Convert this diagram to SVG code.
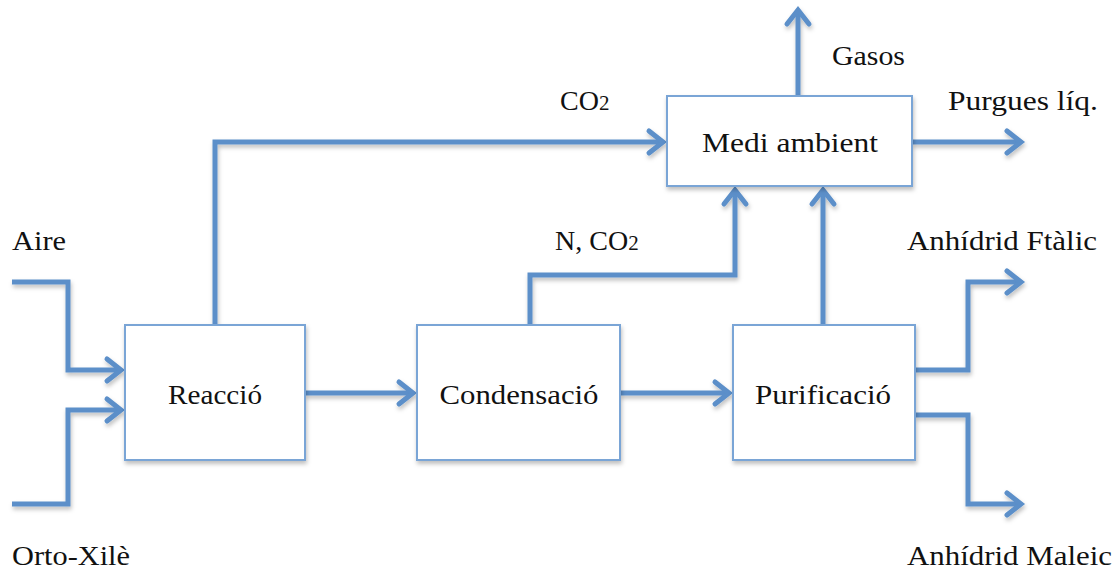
<svg xmlns="http://www.w3.org/2000/svg" width="1115" height="575" viewBox="0 0 1115 575">
<defs>
<marker id="arr" markerUnits="userSpaceOnUse" markerWidth="30" markerHeight="30" viewBox="-20 -15 30 30" refX="0" refY="0" orient="auto">
<path d="M-14,-11 L0,0 L-14,11" fill="none" stroke="#5b8fc9" stroke-width="5" stroke-linecap="round" stroke-linejoin="miter"/>
</marker>
<filter id="sh" x="-10%" y="-10%" width="130%" height="130%">
<feDropShadow dx="1" dy="3" stdDeviation="2" flood-color="#000" flood-opacity="0.25"/>
</filter>
</defs>
<style>
.box{fill:#fff;stroke:#7aa5d6;stroke-width:2}
.ln{fill:none;stroke:#5b8fc9;stroke-width:5;stroke-linejoin:miter}
.t{font-family:"Liberation Serif",serif;font-size:28px;fill:#111}
.c{text-anchor:middle}
</style>
<g id="connectors" filter="url(#sh)">
<polyline class="ln" points="12,282 68,282 68,370 121,370" marker-end="url(#arr)"/>
<polyline class="ln" points="12,504 68,504 68,410 121,410" marker-end="url(#arr)"/>
<polyline class="ln" points="215,325 215,142 663,142" marker-end="url(#arr)"/>
<polyline class="ln" points="305,393 413,393" marker-end="url(#arr)"/>
<polyline class="ln" points="620,393 729,393" marker-end="url(#arr)"/>
<polyline class="ln" points="530,325 530,275 735,275 735,190" marker-end="url(#arr)"/>
<polyline class="ln" points="823,325 823,190" marker-end="url(#arr)"/>
<polyline class="ln" points="798,96 798,10" marker-end="url(#arr)"/>
<polyline class="ln" points="912,142 1021,142" marker-end="url(#arr)"/>
<polyline class="ln" points="915,370 968,370 968,282 1021,282" marker-end="url(#arr)"/>
<polyline class="ln" points="915,415 968,415 968,504 1021,504" marker-end="url(#arr)"/>
</g>
<g id="reaccio">
<rect class="box" x="125" y="325" width="180" height="135" filter="url(#sh)"/>
<text class="t c" x="215" y="404" textLength="94" lengthAdjust="spacingAndGlyphs">Reacció</text>
</g>
<g id="condensacio">
<rect class="box" x="417" y="325" width="203" height="135" filter="url(#sh)"/>
<text class="t c" x="519" y="404" textLength="159" lengthAdjust="spacingAndGlyphs">Condensació</text>
</g>
<g id="purificacio">
<rect class="box" x="733" y="325" width="182" height="135" filter="url(#sh)"/>
<text class="t c" x="823" y="404" textLength="136" lengthAdjust="spacingAndGlyphs">Purificació</text>
</g>
<g id="medi">
<rect class="box" x="667" y="96" width="245" height="90" filter="url(#sh)"/>
<text class="t c" x="790" y="152" textLength="176" lengthAdjust="spacingAndGlyphs">Medi ambient</text>
</g>
<g id="labels">
<text class="t" x="12" y="250" textLength="54" lengthAdjust="spacingAndGlyphs">Aire</text>
<text class="t" x="12" y="565" textLength="118" lengthAdjust="spacingAndGlyphs">Orto-Xilè</text>
<text class="t" x="560" y="110">CO<tspan font-size="21">2</tspan></text>
<text class="t" x="555" y="250">N, CO<tspan font-size="21">2</tspan></text>
<text class="t" x="832" y="65" textLength="73" lengthAdjust="spacingAndGlyphs">Gasos</text>
<text class="t" x="948" y="110" textLength="150" lengthAdjust="spacingAndGlyphs">Purgues líq.</text>
<text class="t" x="907" y="250" textLength="190" lengthAdjust="spacingAndGlyphs">Anhídrid Ftàlic</text>
<text class="t" x="907" y="565" textLength="205" lengthAdjust="spacingAndGlyphs">Anhídrid Maleic</text>
</g>
</svg>
